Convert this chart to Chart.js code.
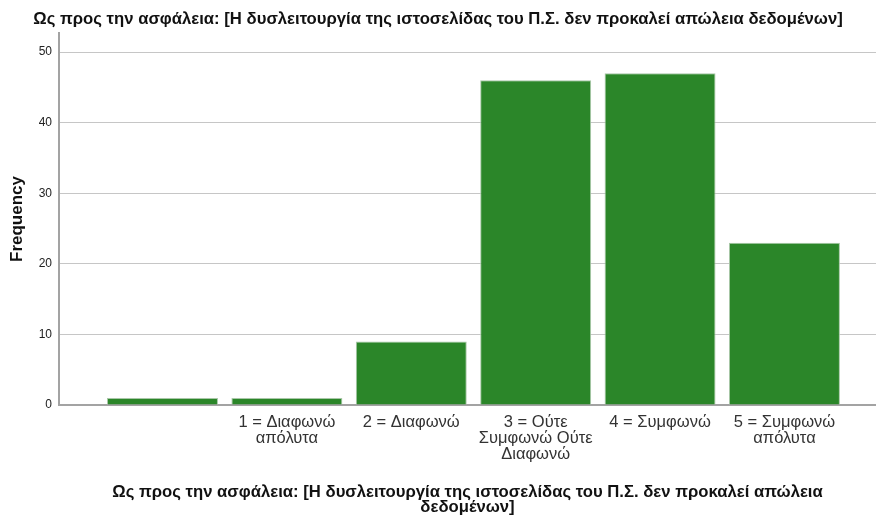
<!DOCTYPE html>
<html>
<head>
<meta charset="utf-8">
<script src="https://cdn.jsdelivr.net/npm/chart.js@4"></script>
<style>
  html, body { margin: 0; padding: 0; background: #fff; }
  canvas { display: block; }
</style>
</head>
<body>
<canvas id="chart" width="876" height="515"></canvas>
<script>
// ---- data ----
const CATEGORIES = [
  '',
  ['1 = Διαφωνώ', 'απόλυτα'],
  '2 = Διαφωνώ',
  ['3 = Ούτε', 'Συμφωνώ Ούτε', 'Διαφωνώ'],
  '4 = Συμφωνώ',
  ['5 = Συμφωνώ', 'απόλυτα']
];
const FREQUENCY = [1, 1, 9, 46, 47, 23];
const Y_TICKS = [0, 10, 20, 30, 40, 50];

const TITLE = 'Ως προς την ασφάλεια: [Η δυσλειτουργία της ιστοσελίδας του Π.Σ. δεν προκαλεί απώλεια δεδομένων]';
const X_TITLE = ['Ως προς την ασφάλεια: [Η δυσλειτουργία της ιστοσελίδας του Π.Σ. δεν προκαλεί απώλεια', 'δεδομένων]'];

const FONT = '"Liberation Sans", Arial, sans-serif';
const BAR = '#2B8629';
const BAR_EDGE = '#A9C7A8';
const GRID = '#C6C6C6';
const AXIS = '#A3A3A3';

new Chart(document.getElementById('chart'), {
  type: 'bar',
  data: {
    datasets: [{
      data: FREQUENCY.map((v, i) => ({ x: i + 1, y: v })),
      backgroundColor: BAR,
      borderColor: BAR_EDGE,
      borderWidth: 1,
      barPercentage: 0.892,
      categoryPercentage: 1
    }]
  },
  options: {
    responsive: false,
    animation: false,
    layout: { padding: 0 },
    plugins: {
      legend: { display: false },
      tooltip: { enabled: false },
      title: {
        display: true,
        text: TITLE,
        color: '#111',
        font: { family: FONT, size: 16.7, weight: 'bold', lineHeight: 1.2 },
        padding: { top: 9, bottom: 4 }
      }
    },
    scales: {
      x: {
        type: 'linear',
        offset: false,
        min: 0.168,
        max: 6.736,
        afterFit: s => { s.height = 110; },
        afterBuildTicks: s => { s.ticks = CATEGORIES.map((_, i) => ({ value: i + 1 })); },
        grid: { display: false, drawTicks: false, offset: false },
        border: { color: AXIS, width: 2 },
        ticks: {
          autoSkip: false,
          maxRotation: 0,
          padding: 9,
          color: '#333',
          font: { family: FONT, size: 16.5, lineHeight: 0.97 },
          callback: v => CATEGORIES[v - 1]
        },
        title: {
          display: true,
          text: X_TITLE,
          color: '#111',
          font: { family: FONT, size: 16.7, weight: 'bold', lineHeight: 0.9 },
          padding: { top: 0, bottom: 0 }
        }
      },
      y: {
        min: 0,
        max: 52.7,
        afterFit: s => { s.width = 59; },
        afterBuildTicks: s => { s.ticks = Y_TICKS.map(v => ({ value: v })); },
        grid: { color: GRID, drawTicks: false },
        border: { color: AXIS, width: 2 },
        ticks: {
          padding: 7,
          color: '#222',
          font: { family: FONT, size: 12 }
        },
        title: {
          display: true,
          text: 'Frequency',
          color: '#111',
          font: { family: FONT, size: 17, weight: 'bold', lineHeight: 1.1 },
          padding: { top: 8, bottom: 0 }
        }
      }
    }
  }
});
</script>
</body>
</html>
